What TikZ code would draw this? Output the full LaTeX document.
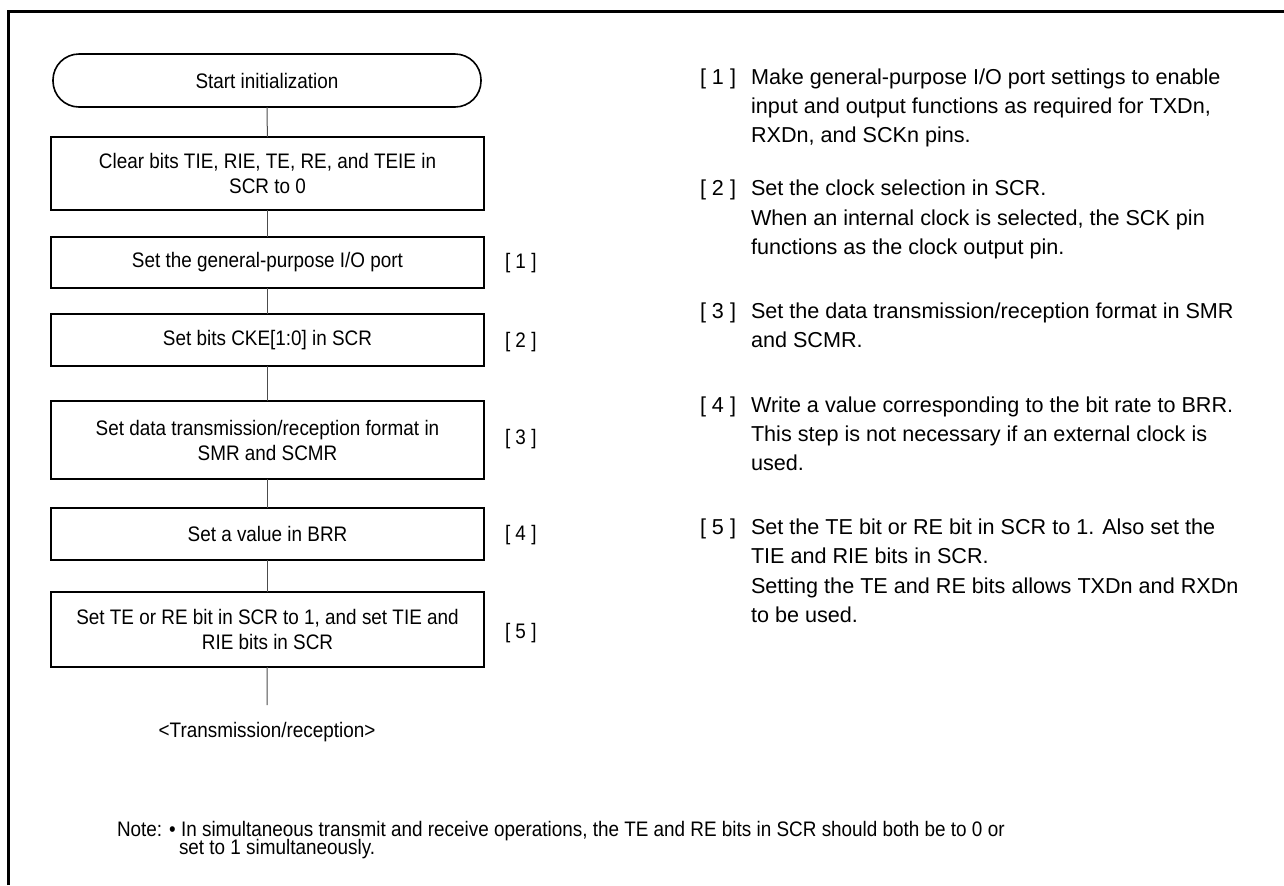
\documentclass[tikz,border=0pt]{standalone}
\usepackage{fontspec}
\setmainfont{Liberation Sans}[FakeStretch=0.9]
\newfontfamily\rightfont{Liberation Sans}
\begin{document}
\begin{tikzpicture}[x=0.5pt,y=-0.5pt,
  every node/.style={inner sep=0pt, outer sep=0pt},
  txt/.style={font=\fontsize{10.5}{12.5}\selectfont},
  rtxt/.style={font=\rightfont\fontsize{10.8}{13}\selectfont},
  stepbox/.style={draw, line width=0.8pt, minimum width=216.5pt, align=center, txt},
  term/.style={draw, line width=0.8pt, rounded corners=13pt, minimum width=214pt, minimum height=26.5pt, txt},
  conn/.style={line width=0.5pt, draw=black!70},
  lbl/.style={anchor=west, txt},
  rline/.style={anchor=base west, rtxt},
  nline/.style={anchor=base west, txt}]
\useasboundingbox (0,0) rectangle (1284,885);
\draw[line width=1.3pt] (8.5,885) -- (8.5,11.5) -- (1284,11.5);

\node[term] (start) at (267,80.5) {Start initialization};
\node[stepbox, minimum height=36.5pt] (b1) at (267.5,173.5) {Clear bits TIE, RIE, TE, RE, and TEIE in\\SCR to 0};
\node[stepbox, minimum height=25.5pt] (b2) at (267.5,262.5) {Set the general-purpose I/O port};
\node[stepbox, minimum height=26pt] (b3) at (267.5,340) {Set bits CKE[1:0] in SCR};
\node[stepbox, minimum height=39pt] (b4) at (267.5,440) {Set data transmission/reception format in\\SMR and SCMR};
\node[stepbox, minimum height=26pt] (b5) at (267.5,534) {Set a value in BRR};
\node[stepbox, minimum height=37.5pt] (b6) at (267.5,629.5) {Set TE or RE bit in SCR to 1, and set TIE and\\RIE bits in SCR};
\coordinate (endc) at (267,705);
\node[txt] (tr) at (267,732) {<Transmission/reception>};

\draw[conn] (start) -- (b1);
\draw[conn] (b1) -- (b2);
\draw[conn] (b2) -- (b3);
\draw[conn] (b3) -- (b4);
\draw[conn] (b4) -- (b5);
\draw[conn] (b5) -- (b6);
\draw[conn] (b6) -- (endc);

\node[lbl] (l1) at (505,263) {[ 1 ]};
\node[lbl] (l2) at (505,342) {[ 2 ]};
\node[lbl] (l3) at (505,439) {[ 3 ]};
\node[lbl] (l4) at (505,535) {[ 4 ]};
\node[lbl] (l5) at (505,633) {[ 5 ]};

\node[rline] (n1) at (700,84.5) {[ 1 ]};
\node[rline] (t1a) at (751,84.5) {Make general-purpose I/O port settings to enable};
\node[rline] (t1b) at (751,113.5) {input and output functions as required for TXDn,};
\node[rline] (t1c) at (751,142.5) {RXDn, and SCKn pins.};

\node[rline] (n2) at (700,195.5) {[ 2 ]};
\node[rline] (t2a) at (751,195.5) {Set the clock selection in SCR.};
\node[rline] (t2b) at (751,225) {When an internal clock is selected, the SCK pin};
\node[rline] (t2c) at (751,254) {functions as the clock output pin.};

\node[rline] (n3) at (700,318.5) {[ 3 ]};
\node[rline] (t3a) at (751,318.5) {Set the data transmission/reception format in SMR};
\node[rline] (t3b) at (751,347.5) {and SCMR.};

\node[rline] (n4) at (700,412.5) {[ 4 ]};
\node[rline] (t4a) at (751,412.5) {Write a value corresponding to the bit rate to BRR.};
\node[rline] (t4b) at (751,441.5) {This step is not necessary if an external clock is};
\node[rline] (t4c) at (751,470.5) {used.};

\node[rline] (n5) at (700,534.5) {[ 5 ]};
\node[rline] (t5a) at (751,534.5) {Set the TE bit or RE bit in SCR to 1. Also set the};
\node[rline] (t5b) at (751,563.5) {TIE and RIE bits in SCR.};
\node[rline] (t5c) at (751,593) {Setting the TE and RE bits allows TXDn and RXDn};
\node[rline] (t5d) at (751,622.5) {to be used.};

\node[nline] (note1) at (117,836) {Note: \textbullet\ In simultaneous transmit and receive operations, the TE and RE bits in SCR should both be to 0 or};
\node[nline] (note2) at (179,854) {set to 1 simultaneously.};
\end{tikzpicture}
\end{document}
